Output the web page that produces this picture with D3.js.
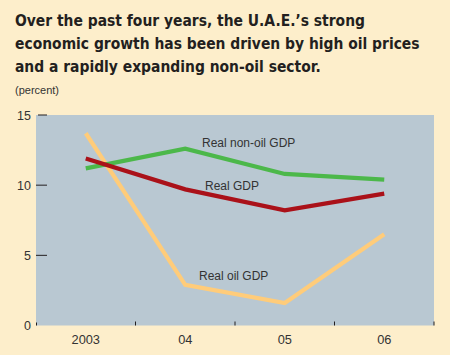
<!DOCTYPE html>
<html><head><meta charset="utf-8">
<script src="https://cdn.jsdelivr.net/npm/d3@7"></script>
<style>
html,body{margin:0;padding:0;background:#FDEECB;}
svg{display:block;}
</style></head>
<body><svg id="c" width="450" height="355"></svg>
<script>
const years = ["2003","04","05","06"];
const realNonOilGDP = [11.2, 12.6, 10.8, 10.4];
const realGDP = [11.9, 9.7, 8.2, 9.4];
const realOilGDP = [13.7, 2.9, 1.6, 6.5];
const yTicks = [0, 5, 10, 15];
const titleLines = ["Over the past four years, the U.A.E.\u2019s strong",
  "economic growth has been driven by high oil prices",
  "and a rapidly expanding non-oil sector."];
const unitLabel = "(percent)";
const seriesNames = ["Real non-oil GDP", "Real GDP", "Real oil GDP"];

const svg = d3.select("#c");
svg.append("rect").attr("width",450).attr("height",355).attr("fill","#FDEECB");

const tf = "'Liberation Sans Narrow','DejaVu Sans Condensed','Liberation Sans',sans-serif";
const titleEls = titleLines.map((t,i)=>
  svg.append("text").attr("x",15).attr("y",26+i*23)
    .attr("font-family",tf).attr("font-weight","bold").attr("font-size",19)
    .attr("fill","#231f20").text(t));
// size title so the widest line spans about 407px, as in the reference
const w2 = titleEls[1].node().getComputedTextLength();
if (w2 > 0) {
  const fs = Math.min(21, 19 * 405 / w2);
  titleEls.forEach(e=>e.attr("font-size", fs));
}
svg.append("text").attr("x",15).attr("y",94).attr("font-family","'Liberation Sans',Arial,sans-serif")
  .attr("font-size",11).attr("fill","#333").text(unitLabel);

const L=36, R=434, T=115, B=325.5;
const x = d3.scaleBand().domain(years).range([L,R]);
const y = d3.scaleLinear().domain([0,15]).range([B,T]);

svg.append("rect").attr("x",L).attr("y",T).attr("width",R-L).attr("height",B-T).attr("fill","#B9C8D2");

const lf = "'Liberation Sans',Arial,sans-serif";
const yAxis = svg.append("g");
yTicks.forEach(v=>{
  if (v>0) yAxis.append("line").attr("x1",L+ (v===15?2:0)).attr("x2",L+11).attr("y1",y(v)).attr("y2",y(v))
    .attr("stroke","#231f20").attr("stroke-width",1);
  else yAxis.append("line").attr("x1",L+0.5).attr("x2",L+0.5).attr("y1",B-3).attr("y2",B).attr("stroke","#231f20");
  yAxis.append("text").attr("x",L-5).attr("y",y(v)+4.5).attr("text-anchor","end")
    .attr("font-family",lf).attr("font-size",12.5).attr("fill","#333").text(v);
});
years.forEach((yr,i)=>{
  const bx = x(yr)+x.bandwidth();
  svg.append("line").attr("x1",bx).attr("x2",bx).attr("y1",B-4).attr("y2",B)
    .attr("stroke","#231f20").attr("stroke-width",1);
  svg.append("text").attr("x",x(yr)+x.bandwidth()/2).attr("y",344).attr("text-anchor","middle")
    .attr("font-family",lf).attr("font-size",12.8).attr("fill","#333").text(yr);
});

const line = d3.line().x((d,i)=>x(years[i])+x.bandwidth()/2).y(d=>y(d));
const series = [
  {v: realOilGDP, c:"#FFCC7A"},
  {v: realNonOilGDP, c:"#4CB84A"},
  {v: realGDP, c:"#AA1119"}
];
series.forEach(s=>{
  svg.append("path").attr("d",line(s.v)).attr("fill","none").attr("stroke",s.c)
    .attr("stroke-width",4.2).attr("stroke-linejoin","miter");
});

const labels = [
  {t: seriesNames[0], x: 202, y: 147},
  {t: seriesNames[1], x: 205, y: 190},
  {t: seriesNames[2], x: 199, y: 280}
];
labels.forEach(l=>{
  svg.append("text").attr("x",l.x).attr("y",l.y).attr("font-family",lf)
    .attr("font-size",12).attr("fill","#333").text(l.t);
});
</script></body></html>
